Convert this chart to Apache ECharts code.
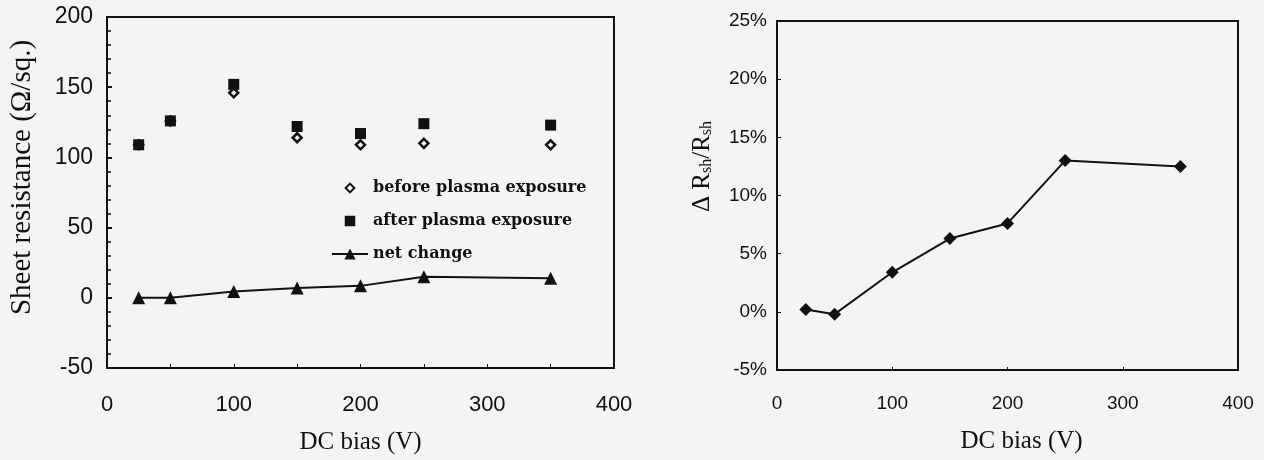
<!DOCTYPE html>
<html>
<head>
<meta charset="utf-8">
<script src="https://cdn.jsdelivr.net/npm/echarts@6/dist/echarts.min.js"></script>
<style>
html, body { margin: 0; padding: 0; background: #f4f4f4; }
#main { width: 1264px; height: 460px; }
</style>
</head>
<body>
<div id="main"></div>
<script>
var myChart = echarts.init(document.getElementById('main'));

// DC bias (V)
var bias = [25, 50, 100, 150, 200, 250, 350];
// sheet resistance (ohm/sq)
var before = [109, 126, 146, 114, 109, 110, 109];
var after = [109, 126, 152, 122, 117, 124, 123];
var netChange = [0, 0, 4.5, 7, 8.5, 15, 14];
// relative change (%)
var relChange = [0.2, -0.2, 3.4, 6.3, 7.6, 13.0, 12.5];

var pairs = function (xs, ys) {
    var res = [];
    for (var i = 0; i < xs.length; i++) {
        res.push([xs[i], ys[i]]);
    }
    return res;
};

var black = '#111';
var bg = '#f4f4f4';
var sans = 'Liberation Sans';
var serif = 'Liberation Serif';

option = {
    backgroundColor: bg,
    animation: false,
    legend: {
        orient: 'vertical',
        left: 326,
        top: 175,
        itemGap: 17,
        itemWidth: 36,
        itemHeight: 14,
        data: [
            {name: 'before plasma exposure', icon: 'path://M0,0M16,16M8,3L13,8L8,13L3,8Z'},
            {name: 'after plasma exposure', icon: 'path://M0,0M16,16M2,2L14,2L14,14L2,14Z'},
            {name: 'net change'}
        ],
        textStyle: {color: black, fontFamily: 'DejaVu Serif', fontWeight: 'bold', fontSize: 16}
    },
    grid: [
        {left: 107, right: 650, top: 17, bottom: 92, show: true, borderColor: black, borderWidth: 2},
        {left: 777, right: 26, top: 21, bottom: 90, show: true, borderColor: black, borderWidth: 2}
    ],
    xAxis: [
        {
            gridIndex: 0, type: 'value', min: 0, max: 400, interval: 100,
            name: 'DC bias (V)', nameLocation: 'middle', nameGap: 62,
            nameTextStyle: {color: black, fontFamily: serif, fontSize: 25},
            axisLine: {onZero: false, lineStyle: {color: black, width: 2}},
            axisTick: {inside: true, length: 4, lineStyle: {color: black}},
            minorTick: {show: true, splitNumber: 2, length: 4, lineStyle: {color: black}},
            axisLabel: {margin: 26, color: black, fontFamily: sans, fontSize: 22},
            splitLine: {show: false}
        },
        {
            gridIndex: 1, type: 'value', min: 0, max: 400, interval: 100,
            name: 'DC bias (V)', nameLocation: 'middle', nameGap: 59,
            nameTextStyle: {color: black, fontFamily: serif, fontSize: 25, padding: [0, 0, 0, 28]},
            axisLine: {onZero: false, lineStyle: {color: black, width: 2}},
            axisTick: {inside: true, length: 3, lineStyle: {color: black}},
            axisLabel: {margin: 24, color: black, fontFamily: sans, fontSize: 19},
            splitLine: {show: false}
        }
    ],
    yAxis: [
        {
            gridIndex: 0, type: 'value', min: -50, max: 200, interval: 50,
            name: 'Sheet resistance (\u03A9/sq.)', nameLocation: 'middle', nameGap: 70,
            nameTextStyle: {color: black, fontFamily: serif, fontSize: 29, padding: [0, 0, 0, 30]},
            axisLine: {onZero: false, lineStyle: {color: black, width: 2}},
            axisTick: {inside: true, length: 5, lineStyle: {color: black, width: 2}},
            minorTick: {show: true, splitNumber: 5, length: 4, lineStyle: {color: black, width: 1.5}},
            axisLabel: {margin: 14, color: black, fontFamily: sans, fontSize: 23, padding: [6, 0, 0, 0]},
            splitLine: {show: false}
        },
        {
            gridIndex: 1, type: 'value', min: -5, max: 25, interval: 5,
            name: '{n|\u0394 R}{s|sh}{n|/R}{s|sh}', nameLocation: 'middle', nameGap: 62,
            nameTextStyle: {
                color: black, fontFamily: serif, padding: [0, 0, 0, 58],
                rich: {
                    n: {fontFamily: serif, fontSize: 25, color: black},
                    s: {fontFamily: serif, fontSize: 16, color: black, padding: [8, 0, 0, 0]}
                }
            },
            axisLine: {onZero: false, lineStyle: {color: black, width: 2}},
            axisTick: {inside: true, length: 4, lineStyle: {color: black}},
            axisLabel: {margin: 10, color: black, fontFamily: sans, fontSize: 19, formatter: '{value}%'},
            splitLine: {show: false}
        }
    ],
    series: [
        {
            name: 'before plasma exposure',
            type: 'scatter', xAxisIndex: 0, yAxisIndex: 0,
            data: pairs(bias, before),
            symbol: 'diamond', symbolSize: 9,
            itemStyle: {color: bg, borderColor: black, borderWidth: 2.5, opacity: 1},
            z: 3
        },
        {
            name: 'after plasma exposure',
            type: 'scatter', xAxisIndex: 0, yAxisIndex: 0,
            data: pairs(bias, after),
            symbol: 'rect', symbolSize: 11,
            itemStyle: {color: black, opacity: 1},
            z: 4
        },
        {
            name: 'net change',
            type: 'line', xAxisIndex: 0, yAxisIndex: 0,
            data: pairs(bias, netChange),
            symbol: 'triangle', symbolSize: 13,
            lineStyle: {color: black, width: 2},
            itemStyle: {color: black}
        },
        {
            name: 'relative change',
            type: 'line', xAxisIndex: 1, yAxisIndex: 1,
            data: pairs(bias, relChange),
            symbol: 'diamond', symbolSize: 13,
            lineStyle: {color: black, width: 2},
            itemStyle: {color: black}
        }
    ]
};
myChart.setOption(option);
</script>
</body>
</html>
